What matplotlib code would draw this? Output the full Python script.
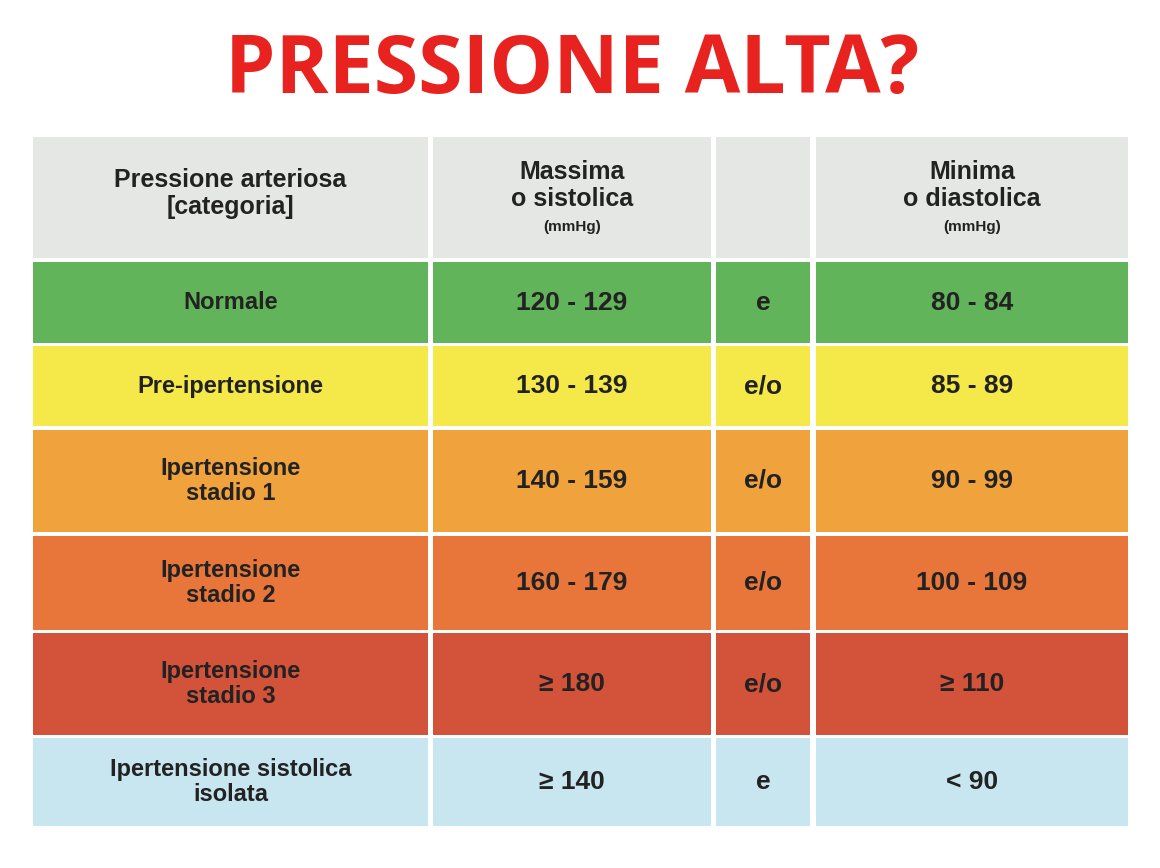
import matplotlib.pyplot as plt
from matplotlib.patches import Rectangle

title = "PRESSIONE ALTA?"
header = ["Pressione arteriosa\n[categoria]", "Massima\no sistolica", "", "Minima\no diastolica"]
categories = ["Normale", "Pre-ipertensione", "Ipertensione\nstadio 1", "Ipertensione\nstadio 2",
              "Ipertensione\nstadio 3", "Ipertensione sistolica\nisolata"]
sistolica = ["120 - 129", "130 - 139", "140 - 159", "160 - 179", "≥ 180", "≥ 140"]
connettivo = ["e", "e/o", "e/o", "e/o", "e/o", "e"]
diastolica = ["80 - 84", "85 - 89", "90 - 99", "100 - 109", "≥ 110", "< 90"]
row_colors = ["#62b45a", "#f5e94a", "#f0a23c", "#e8763a", "#d3523a", "#c8e6ef"]

# layout in pixels
col_edges = [(33, 428), (433, 711), (716, 810), (816, 1128)]
row_edges = [(137, 258), (262, 343), (346, 426), (430, 532), (536, 630), (633, 735), (738, 826)]

fig = plt.figure(figsize=(11.6, 8.68), dpi=100)
ax = fig.add_axes([0, 0, 1, 1])
ax.set_xlim(0, 1160)
ax.set_ylim(868, 0)
ax.axis("off")

ax.text(572, 72, title, ha="center", va="center", fontsize=58, fontweight="bold",
        color="#e8231f", family="Open Sans")

font = "Liberation Sans"
for r, (y0, y1) in enumerate(row_edges):
    color = "#e5e7e4" if r == 0 else row_colors[r - 1]
    for c, (x0, x1) in enumerate(col_edges):
        ax.add_patch(Rectangle((x0, y0), x1 - x0, y1 - y0, color=color, lw=0))
        xc, yc = (x0 + x1) / 2, (y0 + y1) / 2
        if r == 0:
            txt = header[c]
            if c in (1, 3):
                ax.text(xc, yc - 12, txt, ha="center", va="center", fontsize=18, fontweight="bold",
                        family=font, color="#222222", linespacing=1.2)
                ax.text(xc, yc + 30, "(mmHg)", ha="center", va="center", fontsize=11,
                        fontweight="bold", family=font, color="#222222")
            elif txt:
                ax.text(xc, yc - 4, txt, ha="center", va="center", fontsize=18, fontweight="bold",
                        family=font, color="#222222", linespacing=1.2)
        else:
            i = r - 1
            vals = [categories[i], sistolica[i], connettivo[i], diastolica[i]]
            size = 17 if c == 0 else 19
            ax.text(xc, yc, vals[c], ha="center", va="center", fontsize=size, fontweight="bold",
                    family=font, color="#222222", linespacing=1.1)

fig.savefig("out.png", dpi=100, facecolor="white")
